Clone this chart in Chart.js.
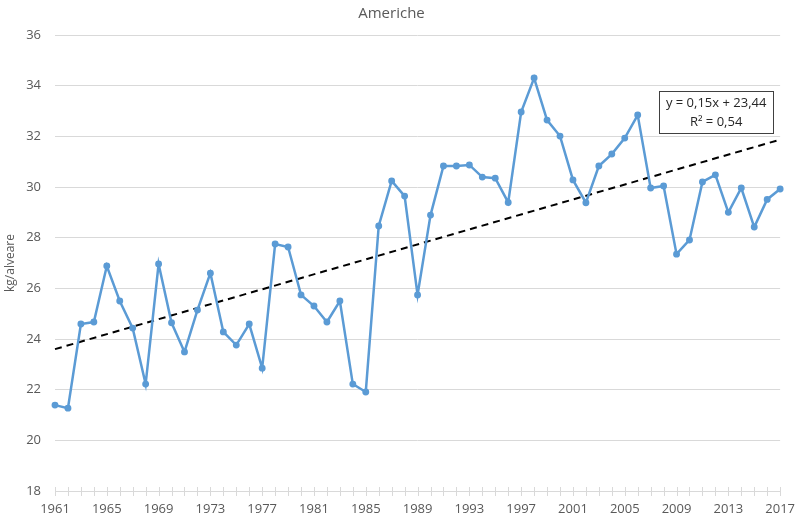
<!DOCTYPE html>
<html>
<head>
<meta charset="utf-8">
<script src="https://cdn.jsdelivr.net/npm/chart.js@4/dist/chart.umd.min.js"></script>
<style>
  html, body { margin: 0; padding: 0; background: #fff; }
  #wrap { width: 805px; height: 523px; }
</style>
</head>
<body>
<div id="wrap"><canvas id="chart"></canvas></div>
<script>
const years = [];
for (let y = 1961; y <= 2017; y++) years.push(String(y));

const yieldValues = [
  21.39, 21.27, 24.59, 24.67, 26.88, 25.50, 24.43, 22.22, 26.96, 24.64,
  23.49, 25.14, 26.60, 24.28, 23.76, 24.59, 22.85, 27.75, 27.63, 25.74,
  25.30, 24.67, 25.50, 22.22, 21.91, 28.46, 30.24, 29.64, 25.74, 28.89,
  30.83, 30.83, 30.87, 30.39, 30.35, 29.39, 32.96, 34.30, 32.64, 32.01,
  30.28, 29.38, 30.83, 31.30, 31.93, 32.84, 29.96, 30.04, 27.35, 27.91,
  30.20, 30.48, 29.00, 29.96, 28.42, 29.51, 29.92
];

// trendline ends
const trendStart = 23.6;
const trendEnd = 31.87;
const trendLabels = ['y = 0,15x + 23,44', 'R² = 0,54'];

const yMin = 18, yMax = 36, yStep = 2;
const textColor = '#595959';
const fontFamily = '"Open Sans", "Noto Sans", sans-serif';

// cross tick marks on the x axis, one per year
const crossTicks = {
  id: 'crossTicks',
  afterDraw(chart) {
    const ctx = chart.ctx;
    const xs = chart.scales.x;
    const base = chart.chartArea.bottom;
    ctx.save();
    ctx.strokeStyle = '#d9d9d9';
    ctx.lineWidth = 1;
    ctx.beginPath();
    ctx.moveTo(chart.chartArea.left, base + 0.5);
    ctx.lineTo(chart.chartArea.right, base + 0.5);
    years.forEach((yr, i) => {
      const px = Math.round(xs.getPixelForValue(i)) + 0.5;
      ctx.moveTo(px, base - 4);
      ctx.lineTo(px, base + 5);
    });
    ctx.stroke();
    ctx.restore();
  }
};

// equation box near the end of the trendline
const equationBox = {
  id: 'equationBox',
  afterDraw(chart) {
    const ctx = chart.ctx;
    const ys = chart.scales.y;
    const right = chart.chartArea.right - 7;
    const top = ys.getPixelForValue(33.78);
    const w = 114, h = 42;
    const left = right - w;
    ctx.save();
    ctx.fillStyle = '#fff';
    ctx.fillRect(left, top, w, h);
    ctx.strokeStyle = '#404040';
    ctx.lineWidth = 1;
    ctx.strokeRect(Math.round(left) + 0.5, Math.round(top) + 0.5, w, h);
    ctx.fillStyle = '#262626';
    ctx.font = '13px ' + fontFamily;
    ctx.textAlign = 'center';
    ctx.textBaseline = 'middle';
    ctx.fillText(trendLabels[0], left + w / 2, top + 12);
    ctx.fillText(trendLabels[1], left + w / 2, top + 31);
    ctx.restore();
  }
};

new Chart(document.getElementById('chart'), {
  type: 'line',
  data: {
    labels: years,
    datasets: [
      {
        label: 'Americhe',
        data: yieldValues,
        borderColor: '#5B9BD5',
        backgroundColor: '#5B9BD5',
        borderWidth: 2.5,
        pointRadius: 2.2,
        pointHoverRadius: 2.2,
        tension: 0
      },
      {
        label: 'Trend',
        data: [{ x: years[0], y: trendStart }, { x: years[years.length - 1], y: trendEnd }],
        borderColor: '#000',
        borderWidth: 2,
        borderDash: [7, 5],
        pointRadius: 0,
        fill: false
      }
    ]
  },
  options: {
    responsive: true,
    maintainAspectRatio: false,
    animation: false,
    layout: { padding: { left: 0, right: 22, top: 0, bottom: 0 } },
    plugins: {
      legend: { display: false },
      tooltip: { enabled: false },
      title: {
        display: true,
        text: 'Americhe',
        color: textColor,
        font: { family: fontFamily, size: 15, weight: 'normal' },
        padding: { top: 5, bottom: 12 }
      }
    },
    scales: {
      x: {
        offset: false,
        grid: { display: false, drawTicks: false },
        border: { display: false },
        ticks: {
          autoSkip: false,
          maxRotation: 0,
          padding: 10,
          color: textColor,
          font: { family: fontFamily, size: 13 },
          callback: function (val, idx) { return idx % 4 === 0 ? years[idx] : ''; }
        },
        afterFit: s => { s.height = 32; }
      },
      y: {
        min: yMin,
        max: yMax,
        grid: { color: '#d9d9d9', drawTicks: false },
        border: { display: false },
        ticks: {
          stepSize: yStep,
          padding: 14,
          color: textColor,
          font: { family: fontFamily, size: 13 }
        },
        title: {
          display: true,
          text: 'kg/alveare',
          color: textColor,
          font: { family: fontFamily, size: 12 },
          padding: { top: 3, bottom: 4 }
        },
        afterFit: s => { s.width = 55; }
      }
    }
  },
  plugins: [crossTicks, equationBox]
});
</script>
</body>
</html>
